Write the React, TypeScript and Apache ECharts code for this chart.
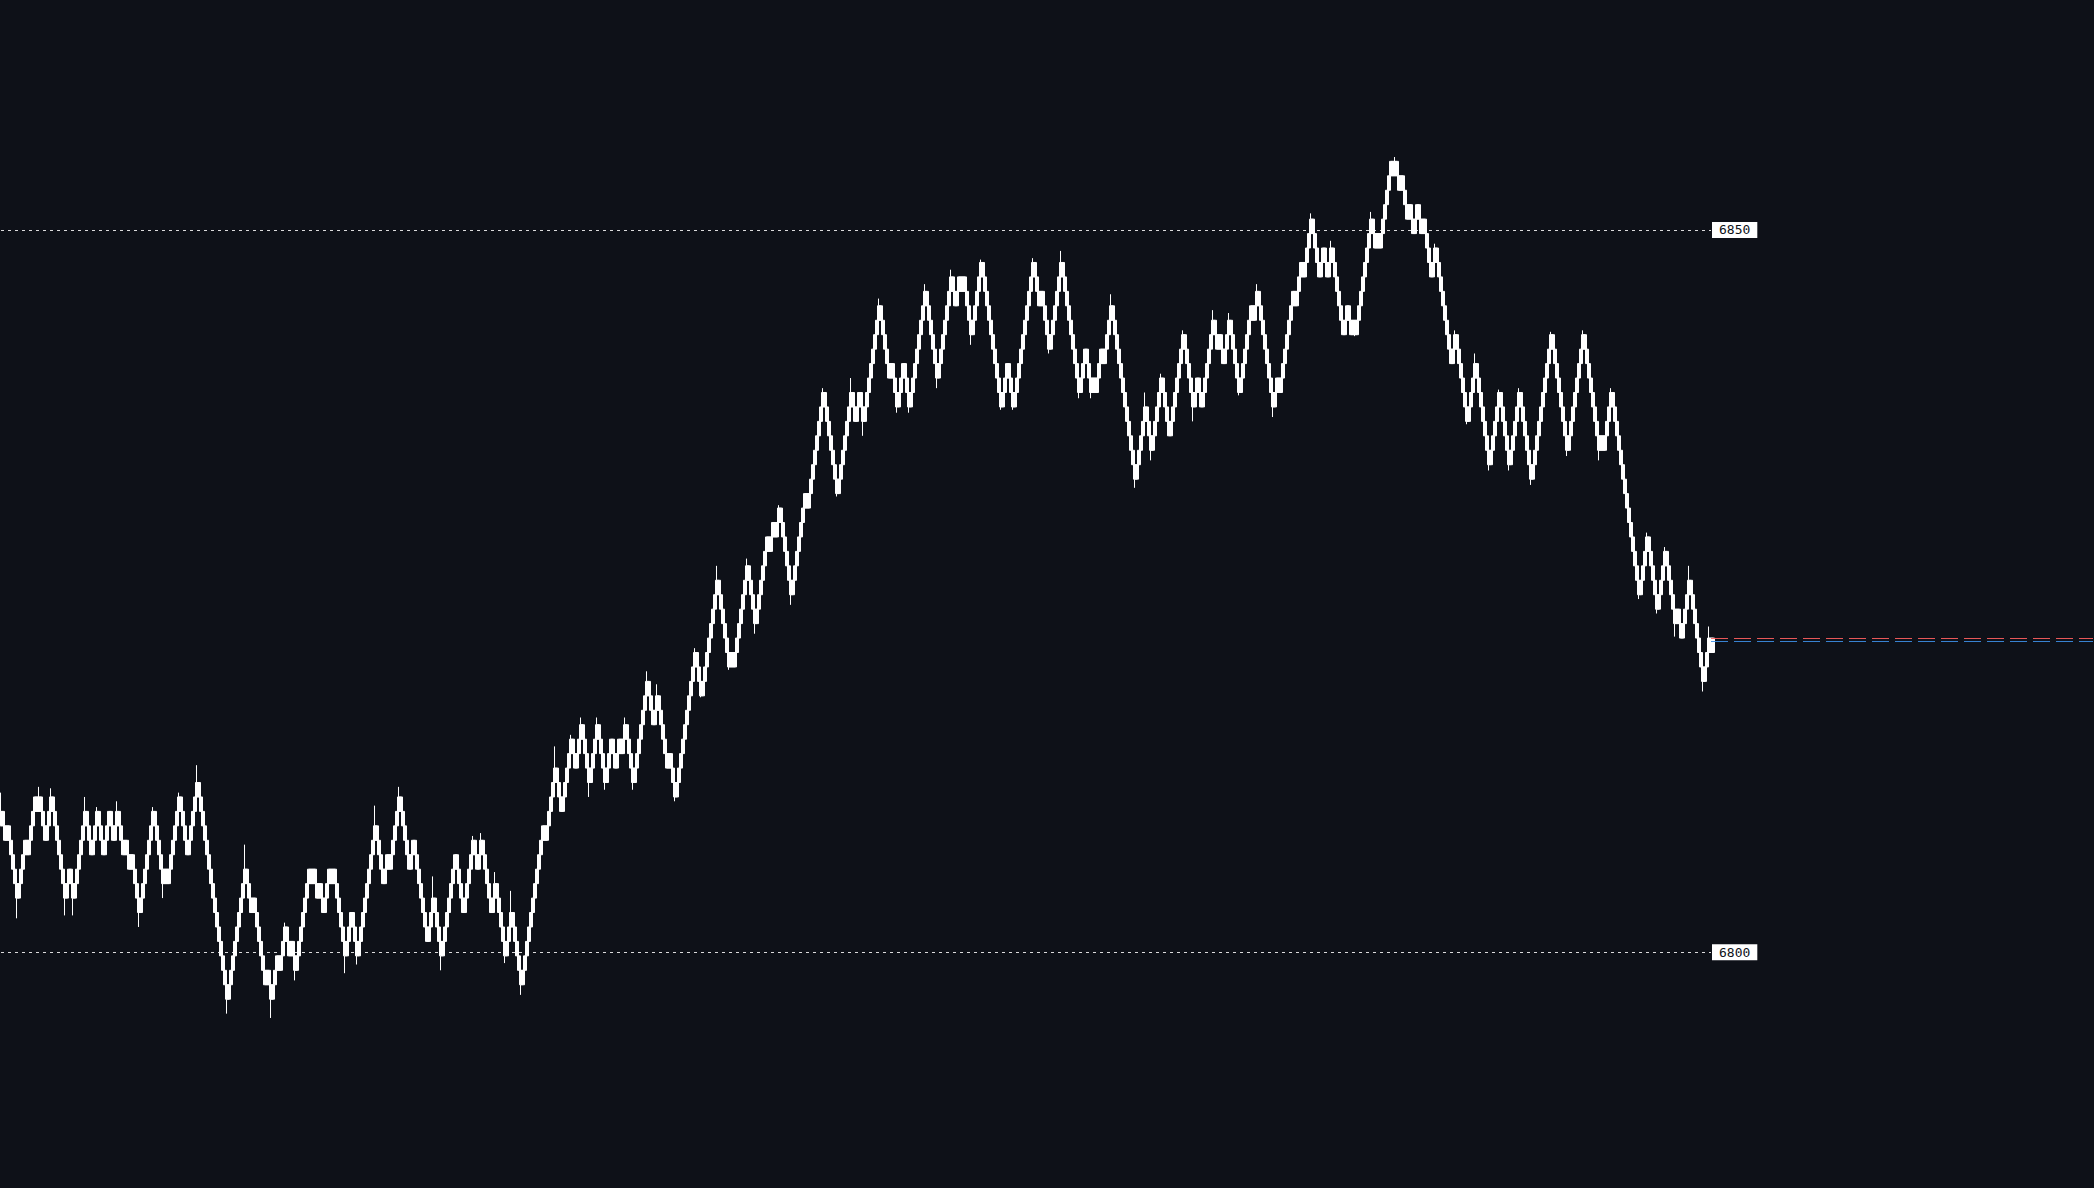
import React, { useEffect, useRef } from "react";
import * as echarts from "echarts";

// Every close sits on a x.75 level; values below are points above 6800.75.
const BASE_PRICE = 6800.75;
const FIRST_OPEN = 8;

const closesA = [
  9, 8, 7, 8, 7, 6, 5, 4, 3, 4,
  5, 6, 7, 6, 7, 8, 9, 10, 9, 10,
  9, 8, 7, 8, 9, 10, 9, 8, 7, 6,
  5, 4, 3, 4, 5, 4, 3, 4, 5, 6,
  7, 8, 9, 8, 7, 6, 7, 8, 9, 8,
  7, 6, 7, 8, 9, 8, 7, 8, 9, 8,
  7, 6, 7, 6, 5, 6, 5, 4, 3, 2,
  3, 4, 5, 6, 7, 8, 9, 8, 7, 6,
  5, 4, 5, 4, 5, 6, 7, 8, 9, 10,
  9, 8, 7, 6, 7, 8, 9, 10, 11, 10,
  9, 8, 7, 6, 5, 4, 3, 2, 1, 0,
  -1, -2, -3, -4, -3, -2, -1, 0, 1, 2,
  3, 4, 5, 4, 3, 2, 3, 2, 1, 0,
  -1, -2, -3, -2, -3, -4, -3, -2, -1, -2,
  -1, 0, 1, 0, -1, 0, -1, -2,
];
const closesB = [
  -1, 0, 1, 2, 3, 4, 5, 4, 5, 4,
  3, 4, 3, 2, 3, 4, 5, 4, 5, 4,
  3, 2, 1, 0, -1, 0, 1, 2, 1, 0,
  -1, 0, 1, 2, 3, 4, 5, 6, 7, 8,
  7, 6, 5, 4, 5, 6, 5, 6, 7, 8,
  9, 10, 9, 8, 7, 6, 5, 6, 7, 6,
  5, 4, 3, 2, 1, 0, 1, 2, 3, 2,
  1, 0, -1, 0, 1, 2, 3, 4, 5, 6,
  5, 4, 3, 2, 3, 4, 5, 6, 7, 6,
  5, 6, 7, 6, 5, 4, 3, 2, 3, 4,
  3, 2, 1, 0, -1, 0, 1, 2, 1, 0,
  -1, -2, -3, -2, -1, 0, 1, 2, 3, 4,
  5, 6, 7, 8, 7, 8, 9, 10, 11, 12,
  11, 10, 9, 10, 11, 12, 13, 14,
];
const closesC = [
  13, 12, 13, 14, 15, 14, 13, 12, 11, 12,
  13, 14, 15, 14, 13, 12, 11, 12, 13, 14,
  13, 12, 13, 14, 13, 14, 15, 14, 13, 12,
  11, 12, 13, 14, 15, 16, 17, 18, 17, 16,
  15, 16, 17, 16, 15, 14, 13, 12, 13, 12,
  11, 10, 11, 12, 13, 14, 15, 16, 17, 18,
  19, 20, 19, 18, 17, 18, 19, 20, 21, 22,
  23, 24, 25, 24, 23, 22, 21, 20, 19, 20,
  19, 20, 21, 22, 23, 24, 25, 26, 25, 24,
  23, 22, 23, 24, 25, 26, 27, 28, 27, 28,
  29, 28, 29, 30, 29, 28, 27, 26, 25, 24,
  25, 26, 27, 28, 29, 30, 31, 30, 31, 32,
  33, 34, 35, 36, 37, 38, 37, 36, 35, 34,
  33, 32, 31, 32, 33, 34, 35, 36, 37, 38,
];
const closesD = [
  37, 36, 37, 38, 37, 36, 37, 38, 39, 40,
  41, 42, 43, 44, 43, 42, 41, 40, 39, 40,
  39, 38, 37, 38, 39, 40, 39, 38, 37, 38,
  39, 40, 41, 42, 43, 44, 45, 44, 43, 42,
  41, 40, 39, 40, 41, 42, 43, 44, 45, 46,
  45, 44, 45, 46, 45, 46, 45, 44, 43, 42,
  43, 44, 45, 46, 47, 46, 45, 44, 43, 42,
  41, 40, 39, 38, 37, 38, 39, 40, 39, 38,
  37, 38, 39, 40, 41, 42, 43, 44, 45, 46,
  47, 46, 45, 44, 45, 44, 43, 42, 41, 42,
  43, 44, 45, 46, 47, 46, 45, 44, 43, 42,
  41, 40, 39, 38, 39, 40, 41, 40, 39, 38,
  39, 38, 39, 40, 41, 40, 41, 42, 43, 44,
  43, 42, 41, 40, 39, 38, 37, 36, 35, 34,
];
const closesE = [
  33, 32, 33, 34, 35, 36, 37, 36, 35, 34,
  35, 36, 37, 38, 39, 38, 37, 36, 35, 36,
  37, 38, 39, 40, 41, 42, 41, 40, 39, 38,
  37, 38, 39, 38, 37, 38, 39, 40, 41, 42,
  43, 42, 41, 42, 41, 40, 41, 42, 43, 42,
  41, 40, 39, 38, 39, 40, 41, 42, 43, 44,
  43, 44, 45, 44, 43, 42, 41, 40, 39, 38,
  37, 38, 39, 38, 39, 40, 41, 42, 43, 44,
  45, 44, 45, 46, 47, 46, 47, 48, 49, 50,
  49, 48, 47, 46, 47, 48, 47, 46, 47, 48,
  47, 46, 45, 44, 43, 42, 43, 44, 43, 42,
  43, 42, 43, 44, 45, 46, 47, 48, 49, 50,
  49, 48, 49, 48, 49, 50, 51, 52, 53, 54,
  53, 54, 53, 52, 53, 52, 51, 50, 51, 50,
  49, 50, 51, 50, 49, 50, 49, 48, 47, 46,
];
const closesF = [
  47, 48, 47, 46, 45, 44, 43, 42, 41, 40,
  41, 42, 41, 40, 39, 38, 37, 36, 37, 38,
  39, 40, 39, 38, 37, 36, 35, 34, 33, 34,
  35, 36, 37, 38, 37, 36, 35, 34, 33, 34,
  35, 36, 37, 38, 37, 36, 35, 34, 33, 32,
  33, 34, 35, 36, 37, 38, 39, 40, 41, 42,
  41, 40, 39, 38, 37, 36, 35, 34, 35, 36,
  37, 38, 39, 40, 41, 42, 41, 40, 39, 38,
  37, 36, 35, 34, 35, 34, 35, 36, 37, 38,
  37, 36, 35, 34, 33, 32, 31, 30, 29, 28,
  27, 26, 25, 24, 25, 26, 27, 28, 27, 26,
  25, 24, 23, 24, 25, 26, 27, 26, 25, 24,
  23, 22, 23, 22, 21, 22, 23, 24, 25, 24,
  23, 22, 21, 20, 19, 18, 19, 20, 21, 20, 21,
];

// [bar index, wick extreme in points above 6800.75]
const upperWicks: [number, number][] = [
  [0, 10.3], [19, 10.7], [25, 10.6], [42, 10], [48, 9.3], [58, 9.7], [76, 9.3], [89, 10.3],
  [98, 12.2], [122, 6.7], [142, 1.3], [187, 9.4], [199, 10.7], [216, 4.5], [236, 7.3],
  [240, 7.5], [247, 4.8], [255, 3.5], [277, 13.5], [285, 14.3], [290, 15.5], [298, 15.5],
  [312, 15.5], [323, 18.7], [328, 17.8], [347, 20.3], [358, 26], [373, 26.5], [389, 30.2],
  [411, 38.3], [425, 39], [439, 44.5], [462, 45.5], [475, 46.5], [490, 47.2], [516, 47.3],
  [530, 47.8], [555, 44.8], [572, 38], [580, 39.3], [591, 42.3], [606, 43.7], [614, 43.5],
  [628, 45.5], [655, 50.4], [665, 48.5], [685, 50.5], [697, 54.3], [717, 48.3], [727, 42.3],
  [737, 40.7], [749, 38.2], [759, 38.3], [775, 42.2], [791, 42.3], [805, 38.3], [823, 28.3],
  [832, 27.3], [844, 26], [854, 21.8],
];
const lowerWicks: [number, number][] = [
  [8, 1.6], [32, 1.8], [36, 1.8], [69, 1], [81, 3], [113, -5], [135, -5.3], [147, -2.7],
  [172, -2.2], [178, -1.6], [220, -2], [252, -1.5], [260, -3.7], [294, 10], [302, 10.5],
  [316, 10.5], [337, 9.7], [350, 16.9], [364, 18.8], [377, 21.3], [395, 23.3], [418, 30.8],
  [431, 35], [448, 36.6], [454, 36.6], [468, 38.3], [485, 41.3], [500, 36.8], [506, 36.8],
  [524, 40.7], [539, 37.6], [545, 37.6], [567, 31.4], [575, 33.3], [596, 36], [619, 37.8],
  [636, 36.3], [677, 41.9], [733, 35.8], [744, 32.6], [754, 32.6], [765, 31.6], [783, 33.6],
  [799, 33.3], [819, 23.7], [828, 22.7], [837, 21.1], [851, 17.3],
];

const GRID_LEVELS = [6850, 6800];
const ASK_PRICE = 6821.75;
const BID_PRICE = 6821.5;
const TOTAL_SLOTS = 1047; // bars + empty space to the right
const Y_MIN = 6783.68;
const Y_MAX = 6865.92;

const BG = "#0e1118";

export default function App() {
  const ref = useRef<HTMLDivElement>(null);

  useEffect(() => {
    if (!ref.current) return;
    const chart = echarts.init(ref.current, null, { renderer: "svg" });

    const closes = [...closesA, ...closesB, ...closesC, ...closesD, ...closesE, ...closesF];
    const hi = new Map(upperWicks);
    const lo = new Map(lowerWicks);
    const candles = closes.map((c, i) => {
      const o = i === 0 ? FIRST_OPEN : closes[i - 1];
      const h = hi.has(i) ? (hi.get(i) as number) : Math.max(o, c);
      const l = lo.has(i) ? (lo.get(i) as number) : Math.min(o, c);
      return [BASE_PRICE + o, BASE_PRICE + c, BASE_PRICE + l, BASE_PRICE + h];
    });
    const categories = Array.from({ length: TOTAL_SLOTS }, (_, i) => String(i));
    const last = closes.length - 1;

    const gridLines = GRID_LEVELS.map((v) => [
      {
        coord: [0, v],
        value: v,
        lineStyle: { color: "rgba(255,255,255,0.85)", width: 1, type: [3, 4] },
        label: {
          show: true,
          position: "end",
          distance: 1,
          formatter: String(v),
          backgroundColor: "#ffffff",
          color: BG,
          fontFamily: "DejaVu Sans Mono",
          fontSize: 13,
          lineHeight: 14,
          padding: [1, 7, 1, 7],
        },
      },
      { coord: [last - 1, v] },
    ]);
    const quoteLine = (price: number, color: string) => [
      {
        coord: [last - 1, price],
        value: price,
        lineStyle: { color, width: 1, type: [17, 6], opacity: 0.9 },
        label: { show: false },
      },
      { coord: [TOTAL_SLOTS - 1, price] },
    ];

    chart.setOption({
      animation: false,
      backgroundColor: BG,
      grid: { left: 0, right: 0, top: 0, bottom: 0 },
      xAxis: {
        type: "category",
        data: categories,
        show: false,
        boundaryGap: true,
      },
      yAxis: {
        type: "value",
        min: Y_MIN,
        max: Y_MAX,
        show: false,
        splitLine: { show: false },
      },
      series: [
        {
          type: "candlestick",
          data: candles,
          large: false,
          barWidth: 3,
          clip: false,
          itemStyle: {
            color: "#ffffff",
            color0: "#ffffff",
            borderColor: "#ffffff",
            borderColor0: "#ffffff",
            borderWidth: 1,
          },
          markLine: {
            silent: true,
            symbol: ["none", "none"],
            animation: false,
            data: [...gridLines, quoteLine(ASK_PRICE, "#ff5f5f"), quoteLine(BID_PRICE, "#3d8fe6")],
          },
        },
      ],
    });

    return () => chart.dispose();
  }, []);

  return (
    <div
      ref={ref}
      style={{
        position: "fixed",
        left: 0,
        top: 0,
        width: 2094,
        height: 1188,
        background: BG,
      }}
    />
  );
}
